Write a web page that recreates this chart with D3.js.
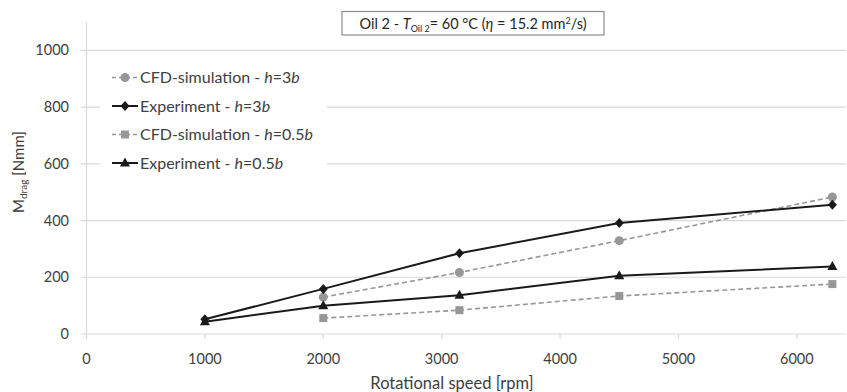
<!DOCTYPE html>
<html>
<head>
<meta charset="utf-8">
<script src="https://cdn.jsdelivr.net/npm/d3@7"></script>
<style>
  html, body { margin: 0; padding: 0; background: #fff; }
  svg { display: block; font-family: Lato, "Open Sans", sans-serif; }
</style>
</head>
<body>
<svg id="chart" width="847" height="392"></svg>
<script>
// ---- data ----
const rpmCFD = [2000, 3150, 4500, 6300];
const rpmExp = [1000, 2000, 3150, 4500, 6300];
const cfd3b = [130, 217, 329, 483];
const exp3b = [52, 159, 285, 391, 456];
const cfd05b = [56, 84, 134, 176];
const exp05b = [43, 100, 137, 205, 238];
const xTicks = [0, 1000, 2000, 3000, 4000, 5000, 6000];
const yTicks = [0, 200, 400, 600, 800, 1000];
const legendLabels = [
  ["CFD-simulation - ", "h", "=3", "b"],
  ["Experiment - ", "h", "=3", "b"],
  ["CFD-simulation - ", "h", "=0.5", "b"],
  ["Experiment - ", "h", "=0.5", "b"]
];

const series = [
  { x: rpmCFD, y: cfd3b, color: "#979797", dash: "5,3", width: 1.6, marker: "circle" },
  { x: rpmExp, y: exp3b, color: "#1a1a1a", dash: null, width: 2, marker: "diamond" },
  { x: rpmCFD, y: cfd05b, color: "#979797", dash: "5,3", width: 1.6, marker: "square" },
  { x: rpmExp, y: exp05b, color: "#1a1a1a", dash: null, width: 2, marker: "triangle" }
];

(function () {
const svg = d3.select("#chart");
const pLeft = 86.5, pRight = 846, pTop = 22, pBottom = 334;
const x = d3.scaleLinear().domain([0, 6415]).range([pLeft, pRight]);
const y = d3.scaleLinear().domain([0, 1100]).range([pBottom, pTop]);
const textColor = "#404040";
const gridColor = "#d9d9d9";

// gridlines
svg.append("g").selectAll("line").data(yTicks).join("line")
  .attr("x1", pLeft - 6).attr("x2", pRight)
  .attr("y1", d => y(d)).attr("y2", d => y(d))
  .attr("stroke", gridColor).attr("stroke-width", 1.2);

// vertical axis line
svg.append("line").attr("x1", pLeft).attr("x2", pLeft)
  .attr("y1", pTop).attr("y2", pBottom + 5)
  .attr("stroke", gridColor).attr("stroke-width", 1.2);

// x ticks
svg.append("g").selectAll("line").data(xTicks).join("line")
  .attr("x1", d => x(d)).attr("x2", d => x(d))
  .attr("y1", pBottom).attr("y2", pBottom + 5)
  .attr("stroke", gridColor).attr("stroke-width", 1.2);

// y tick labels
svg.append("g").selectAll("text").data(yTicks).join("text")
  .attr("x", 69).attr("y", d => y(d)).attr("dy", "0.35em")
  .attr("text-anchor", "end").attr("font-size", 14.5).attr("fill", textColor)
  .text(d => d);

// x tick labels
svg.append("g").selectAll("text").data(xTicks).join("text")
  .attr("x", d => x(d)).attr("y", 359).attr("dy", "0.35em")
  .attr("text-anchor", "middle").attr("font-size", 14.5).attr("fill", textColor)
  .text(d => d);

// x title
svg.append("text").attr("x", 452).attr("y", 383).attr("dy", "0.35em")
  .attr("text-anchor", "middle").attr("font-size", 16.5).attr("fill", textColor)
  .text("Rotational speed [rpm]");

// y title
const yt = svg.append("text").attr("transform", "translate(24,172) rotate(-90)")
  .attr("text-anchor", "middle").attr("font-size", 15).attr("fill", textColor);
yt.append("tspan").text("M");
yt.append("tspan").attr("font-size", 10).attr("dy", 3).text("drag");
yt.append("tspan").attr("dy", -3).text(" [Nmm]");

// marker drawing
function drawMarker(g, type, cx, cy, color) {
  if (type === "circle") {
    g.append("circle").attr("cx", cx).attr("cy", cy).attr("r", 4.5).attr("fill", color);
  } else if (type === "square") {
    g.append("rect").attr("x", cx - 4).attr("y", cy - 4).attr("width", 8).attr("height", 8).attr("fill", color);
  } else if (type === "diamond") {
    g.append("path").attr("d", `M${cx},${cy-5}L${cx+4.5},${cy}L${cx},${cy+5}L${cx-4.5},${cy}Z`).attr("fill", color);
  } else if (type === "triangle") {
    g.append("path").attr("d", `M${cx},${cy-5.5}L${cx+5},${cy+3.5}L${cx-5},${cy+3.5}Z`).attr("fill", color);
  }
}

// series
const line = d3.line().x(d => x(d[0])).y(d => y(d[1]));
series.forEach(s => {
  const pts = s.x.map((v, i) => [v, s.y[i]]);
  svg.append("path").datum(pts).attr("d", line)
    .attr("fill", "none").attr("stroke", s.color).attr("stroke-width", s.width)
    .attr("stroke-dasharray", s.dash);
});
series.forEach(s => {
  const g = svg.append("g");
  s.x.forEach((v, i) => drawMarker(g, s.marker, x(v), y(s.y[i]), s.color));
});

// legend
svg.append("rect").attr("x", 100).attr("y", 62).attr("width", 227).attr("height", 116).attr("fill", "#fff");
const legY = [77.5, 106, 134.5, 163];
series.forEach((s, i) => {
  const g = svg.append("g");
  g.append("line").attr("x1", 112).attr("x2", 138).attr("y1", legY[i]).attr("y2", legY[i])
    .attr("stroke", s.color).attr("stroke-width", s.width).attr("stroke-dasharray", s.dash ? "4,3" : null);
  drawMarker(g, s.marker, 125, legY[i], s.color);
  const t = g.append("text").attr("x", 140).attr("y", legY[i]).attr("dy", "0.35em")
    .attr("font-size", 16).attr("fill", textColor);
  const l = legendLabels[i];
  t.append("tspan").text(l[0]);
  t.append("tspan").attr("font-style", "italic").text(" " + l[1]);
  t.append("tspan").text(l[2]);
  t.append("tspan").attr("font-style", "italic").text(l[3]);
});

// title box
svg.append("rect").attr("x", 342).attr("y", 11.5).attr("width", 262).attr("height", 23.5)
  .attr("fill", "#fff").attr("stroke", "#8c8c8c").attr("stroke-width", 1.2);
const tt = svg.append("text").attr("x", 473).attr("y", 28.5).attr("text-anchor", "middle")
  .attr("font-size", 14.5).attr("fill", "#262626");
tt.append("tspan").text("Oil 2 - ");
tt.append("tspan").attr("font-style", "italic").text("T");
tt.append("tspan").attr("font-size", 9).attr("dy", 3).text("Oil 2");
tt.append("tspan").attr("dy", -3).text("= 60 °C (");
tt.append("tspan").attr("font-style", "italic").text("η");
tt.append("tspan").text(" = 15.2 mm");
tt.append("tspan").attr("font-size", 9).attr("dy", -5).text("2");
tt.append("tspan").attr("dy", 5).text("/s)");
})();
</script>
</body>
</html>
